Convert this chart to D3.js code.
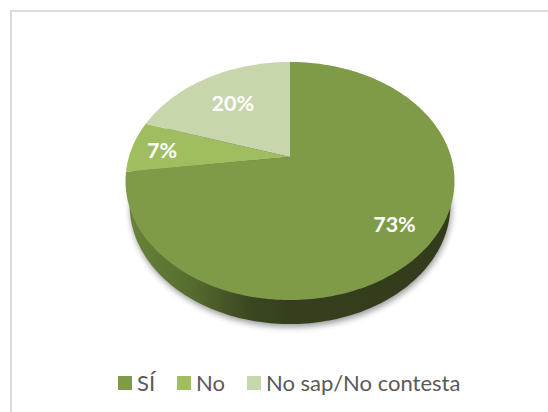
<!DOCTYPE html>
<html><head><meta charset="utf-8">
<script src="https://cdn.jsdelivr.net/npm/d3@7"></script>
<style>html,body{margin:0;padding:0;background:#fff}svg{display:block}text{font-family:Lato,"Open Sans",sans-serif}</style>
</head><body><div id="c"></div>
<script>
const categories = ["SÍ", "No", "No sap/No contesta"];
const values = [73, 7, 20];
const valueLabels = ["73%", "7%", "20%"];
const colors = ["#7f9b48", "#a0bd5f", "#c8d6ac"];

const W = 548, H = 412;
const apex = {x: 290, y: 157}, A = 161.1, B = 114.2, K = -0.2017;
const depth = 24, rimScale = 0.975;
const labelRadius = [0.775, 0.81, 0.67];
const legendX = [118, 177, 247], legendY = 376, swatch = 14;

const svg = d3.select("#c").append("svg").attr("width", W).attr("height", H);
const defs = svg.append("defs");
const blur = defs.append("filter").attr("id","sh").attr("x","-20%").attr("y","-20%").attr("width","140%").attr("height","140%");
blur.append("feGaussianBlur").attr("stdDeviation", 3.2);
const grad = defs.append("linearGradient").attr("id","side").attr("gradientUnits","userSpaceOnUse")
  .attr("x1",125).attr("x2",454).attr("y1",0).attr("y2",0);
[[0,"#6a853c"],[0.2,"#566c2e"],[0.38,"#3a4721"],[0.5,"#353f1d"],[1,"#323b1b"]].forEach(s=>
  grad.append("stop").attr("offset",s[0]).attr("stop-color",s[1]));

svg.append("path").attr("d",`M11,${H}V11H${W}`).attr("fill","none").attr("stroke","#dcdcdc").attr("stroke-width",2);

// perspective disc: unit circle angle -> screen
function proj(theta, r=1){
  const u=Math.sin(theta)*r, v=-Math.cos(theta)*r, d=1+K*v;
  return [apex.x+A*u/d, apex.y+B*v/d];
}
const line = d3.line();
const fullCircle = d3.range(0, 2*Math.PI+0.01, 0.02).map(t=>proj(t));
const rim = fullCircle.map(p=>[apex.x+(p[0]-apex.x)*rimScale, p[1]+depth]);

svg.append("path").attr("d",line(rim.map(p=>[p[0]+1,p[1]+3]))+"Z").attr("fill","#000").attr("opacity",0.4).attr("filter","url(#sh)");
svg.append("path").attr("d",line(rim)+"Z").attr("fill","url(#side)");

const pie = d3.pie().sort(null).value(d=>d)(values);
const g = svg.append("g");
g.selectAll("path").data(pie).join("path")
  .attr("d",d=>{
    const n=Math.max(2,Math.ceil((d.endAngle-d.startAngle)/0.02));
    const pts=d3.range(n+1).map(i=>proj(d.startAngle+(d.endAngle-d.startAngle)*i/n));
    return line([[apex.x,apex.y],...pts])+"Z";
  })
  .attr("fill",(d,i)=>colors[i]);

g.selectAll("text").data(pie).join("text")
  .attr("transform",(d,i)=>{const p=proj((d.startAngle+d.endAngle)/2,labelRadius[i]);return `translate(${p[0]},${p[1]})`;})
  .attr("text-anchor","middle").attr("dy","0.45em")
  .attr("fill","#fff").attr("font-weight",700).attr("font-size",21.5)
  .text((d,i)=>valueLabels[i]);

const lg = svg.append("g").selectAll("g").data(categories).join("g")
  .attr("transform",(d,i)=>`translate(${legendX[i]},${legendY})`);
lg.append("rect").attr("width",swatch).attr("height",swatch).attr("fill",(d,i)=>colors[i]);
lg.append("text").attr("x",swatch+5).attr("y",15).attr("fill","#595959").attr("font-size",22).text(d=>d);
</script></body></html>
